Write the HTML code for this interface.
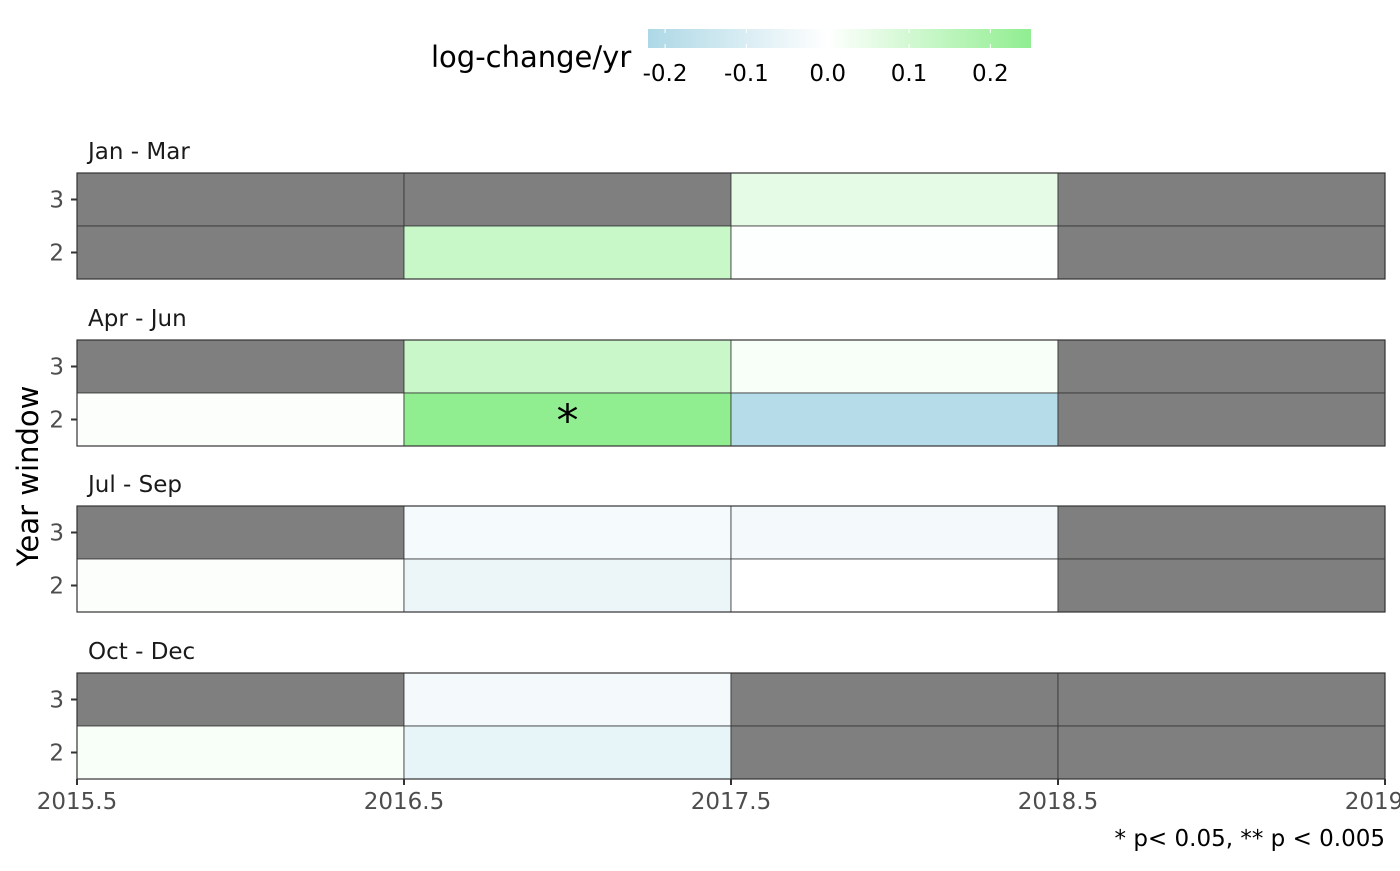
<!DOCTYPE html>
<html><head><meta charset="utf-8"><style>
body{margin:0;background:#fff;width:1400px;height:866px;overflow:hidden}
svg text{font-family:"DejaVu Sans","Liberation Sans",sans-serif}
</style></head><body>
<svg id="chart" width="1400" height="866" viewBox="0 0 1400 866" xmlns="http://www.w3.org/2000/svg">
<defs><linearGradient id="lg" x1="0" x2="1" y1="0" y2="0">
<stop offset="0" stop-color="#add8e6"/><stop offset="0.469" stop-color="#ffffff"/><stop offset="1" stop-color="#90ee90"/></linearGradient></defs>
<g id="legend">
<text x="431" y="67" font-size="29" fill="#000">log-change/yr</text>
<rect x="648" y="29" width="383" height="19" fill="url(#lg)"/>
</g>
<g id="panels"></g>
<text transform="translate(38,476) rotate(-90)" text-anchor="middle" font-size="29" fill="#000">Year window</text>
<text x="1385" y="846" text-anchor="end" font-size="23" fill="#000">* p&lt; 0.05, ** p &lt; 0.005</text>
</svg>
<script>
const panelNames = ["Jan - Mar","Apr - Jun","Jul - Sep","Oct - Dec"];
const xCenters = [2016,2017,2018,2019];
const windows = [2,3];
// values[panel][column]; null = missing (grey)
const valuesW2 = [[null,0.125,-0.005,null],[0.01,0.25,-0.2,null],[0.01,-0.05,0,null],[0.015,-0.065,null,null]];
const valuesW3 = [[null,null,0.056,null],[null,0.12,0.015,null],[null,-0.027,-0.03,null],[null,-0.03,null,null]];
const sigW2 = [["","","",""],["","*","",""],["","","",""],["","","",""]];
const xTicks = [2015.5,2016.5,2017.5,2018.5,2019.5];
const xTickLabels = ["2015.5","2016.5","2017.5","2018.5","2019.5"];
const legendTicks = [-0.2,-0.1,0.0,0.1,0.2];
const legendTickLabels = ["-0.2","-0.1","0.0","0.1","0.2"];

const NS="http://www.w3.org/2000/svg";
const vmin=-0.221, vmax=0.25;
const x0=77, x1=1385;
const xs = v => x0 + (v-2015.5)/(2019.5-2015.5)*(x1-x0);
const panelTops=[173,340,506,673], rowH=53;
const lx = v => 648 + (v-vmin)/(vmax-vmin)*383;
function col(v){
  if(v===null) return "#7f7f7f";
  let a=[255,255,255],b,t;
  if(v<0){b=[173,216,230];t=Math.min(1,v/vmin);}
  else{b=[144,238,144];t=Math.min(1,v/vmax);}
  return "rgb("+a.map((c,i)=>Math.round(c+(b[i]-c)*t)).join(",")+")";
}
function mk(tag,attrs,parent){const e=document.createElementNS(NS,tag);for(const k in attrs)e.setAttribute(k,attrs[k]);parent.appendChild(e);return e;}
const svg=document.getElementById("chart");
const lg=document.getElementById("legend");
legendTicks.forEach((t,i)=>{
  const l=mk("line",{x1:lx(t),x2:lx(t),y1:29,y2:33,stroke:"#fff","stroke-width":1},lg);
  
  
  const l2=mk("line",{x1:lx(t),x2:lx(t),y1:44,y2:48,stroke:"#fff","stroke-width":1},lg);
  
  
  const tx=mk("text",{x:lx(t),y:81,"text-anchor":"middle","font-size":23,fill:"#000"},lg);
  tx.textContent=legendTickLabels[i];
  
  
});
const pg=document.getElementById("panels");
panelNames.forEach((name,p)=>{
  const g=mk("g",{},pg);
  
  
  const top=panelTops[p];
  const st=mk("text",{x:88,y:top-14,"font-size":23,fill:"#1a1a1a"},g);
  st.textContent=name;
  
  
  [valuesW3,valuesW2].forEach((arr,r)=>{
    xCenters.forEach((xc,c)=>{
      const v=arr[p][c];
      const rc=mk("rect",{x:xs(xc-0.5),y:top+r*rowH,width:xs(xc+0.5)-xs(xc-0.5),height:rowH,fill:col(v),stroke:"#333","stroke-width":0.8},g);
      
      
      if(r===1 && sigW2[p][c]){
        const s=mk("text",{x:xs(xc),y:top+rowH+rowH/2+16,"text-anchor":"middle","font-size":44,fill:"#000"},g);
        s.textContent=sigW2[p][c];
        
        
      }
    });
  });
  mk("rect",{x:x0,y:top,width:x1-x0,height:2*rowH,fill:"none",stroke:"#333","stroke-width":1.2},g);
  [3,2].forEach((w,r)=>{
    const yy=top+r*rowH+rowH/2;
    mk("line",{x1:71,x2:77,y1:yy,y2:yy,stroke:"#333","stroke-width":2},g);
    const t=mk("text",{x:64,y:yy+8,"text-anchor":"end","font-size":23,fill:"#4d4d4d"},g);
    t.textContent=String(w);
    
    
  });
});
const xa=mk("g",{},svg);


xTicks.forEach((t,i)=>{
  mk("line",{x1:xs(t),x2:xs(t),y1:779,y2:785,stroke:"#333","stroke-width":2},xa);
  const tx=mk("text",{x:xs(t),y:809,"text-anchor":"middle","font-size":23,fill:"#4d4d4d"},xa);
  tx.textContent=xTickLabels[i];
  
  
});
</script>
</body></html>
